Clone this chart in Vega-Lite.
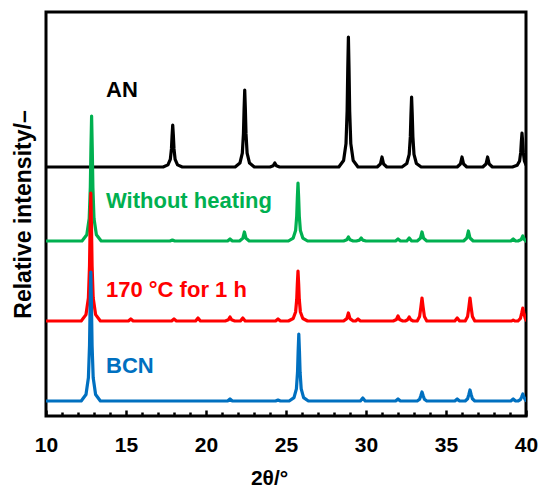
{
  "$schema": "https://vega.github.io/schema/vega-lite/v6.json",
  "width": 480,
  "height": 404,
  "autosize": {"type": "none"},
  "padding": {"left": 46, "top": 12, "right": 13, "bottom": 72},
  "background": "white",
  "config": {
    "view": {"stroke": "black", "strokeWidth": 3},
    "font": "Liberation Sans"
  },
  "resolve": {"axis": {"x": "independent"}},
  "layer": [
    {
      "data": {"values": [
        {"s":"AN","x":10,"y":248},
        {"s":"AN","x":17.32,"y":248},{"s":"AN","x":17.62,"y":250.1},{"s":"AN","x":17.77,"y":255.6},{"s":"AN","x":17.84,"y":266.1},{"s":"AN","x":17.88,"y":279.5},{"s":"AN","x":17.92,"y":290},{"s":"AN","x":17.96,"y":279.5},{"s":"AN","x":18.0,"y":266.1},{"s":"AN","x":18.07,"y":255.6},{"s":"AN","x":18.22,"y":250.1},{"s":"AN","x":18.52,"y":248},
        {"s":"AN","x":21.82,"y":248},{"s":"AN","x":22.12,"y":251.9},{"s":"AN","x":22.27,"y":261.9},{"s":"AN","x":22.34,"y":281.1},{"s":"AN","x":22.38,"y":305.8},{"s":"AN","x":22.42,"y":325},{"s":"AN","x":22.46,"y":305.8},{"s":"AN","x":22.5,"y":281.1},{"s":"AN","x":22.57,"y":261.9},{"s":"AN","x":22.72,"y":251.9},{"s":"AN","x":23.02,"y":248},
        {"s":"AN","x":24.0,"y":248},{"s":"AN","x":24.2,"y":249.2},{"s":"AN","x":24.3,"y":252},{"s":"AN","x":24.4,"y":249.2},{"s":"AN","x":24.6,"y":248},
        {"s":"AN","x":28.3,"y":248},{"s":"AN","x":28.6,"y":254.5},{"s":"AN","x":28.75,"y":271.4},{"s":"AN","x":28.82,"y":303.9},{"s":"AN","x":28.86,"y":345.5},{"s":"AN","x":28.9,"y":378},{"s":"AN","x":28.94,"y":345.5},{"s":"AN","x":28.98,"y":303.9},{"s":"AN","x":29.05,"y":271.4},{"s":"AN","x":29.2,"y":254.5},{"s":"AN","x":29.5,"y":248},
        {"s":"AN","x":30.7,"y":248},{"s":"AN","x":30.9,"y":251},{"s":"AN","x":31.0,"y":258},{"s":"AN","x":31.1,"y":251},{"s":"AN","x":31.3,"y":248},
        {"s":"AN","x":32.25,"y":248},{"s":"AN","x":32.55,"y":251.5},{"s":"AN","x":32.7,"y":260.6},{"s":"AN","x":32.77,"y":278.1},{"s":"AN","x":32.81,"y":300.5},{"s":"AN","x":32.85,"y":318},{"s":"AN","x":32.89,"y":300.5},{"s":"AN","x":32.93,"y":278.1},{"s":"AN","x":33.0,"y":260.6},{"s":"AN","x":33.15,"y":251.5},{"s":"AN","x":33.45,"y":248},
        {"s":"AN","x":35.7,"y":248},{"s":"AN","x":35.9,"y":251},{"s":"AN","x":36.0,"y":258},{"s":"AN","x":36.1,"y":251},{"s":"AN","x":36.3,"y":248},
        {"s":"AN","x":37.3,"y":248},{"s":"AN","x":37.5,"y":251},{"s":"AN","x":37.6,"y":258},{"s":"AN","x":37.7,"y":251},{"s":"AN","x":37.9,"y":248},
        {"s":"AN","x":39.15,"y":248},{"s":"AN","x":39.45,"y":249.7},{"s":"AN","x":39.6,"y":254.1},{"s":"AN","x":39.67,"y":262.6},{"s":"AN","x":39.71,"y":273.5},{"s":"AN","x":39.75,"y":282},{"s":"AN","x":39.79,"y":273.5},{"s":"AN","x":39.83,"y":262.6},{"s":"AN","x":39.9,"y":254.1},{"s":"AN","x":40,"y":250},

        {"s":"WH","x":10,"y":174},
        {"s":"WH","x":12.25,"y":174},{"s":"WH","x":12.55,"y":180.3},{"s":"WH","x":12.7,"y":196.5},{"s":"WH","x":12.77,"y":227.8},{"s":"WH","x":12.81,"y":267.8},{"s":"WH","x":12.85,"y":299},{"s":"WH","x":12.89,"y":267.8},{"s":"WH","x":12.93,"y":227.8},{"s":"WH","x":13.0,"y":196.5},{"s":"WH","x":13.15,"y":180.3},{"s":"WH","x":13.45,"y":174},
        {"s":"WH","x":17.75,"y":174},{"s":"WH","x":17.9,"y":175},{"s":"WH","x":18.05,"y":174},
        {"s":"WH","x":21.35,"y":174},{"s":"WH","x":21.5,"y":176},{"s":"WH","x":21.65,"y":174},
        {"s":"WH","x":22.1,"y":174},{"s":"WH","x":22.3,"y":176.7},{"s":"WH","x":22.4,"y":183},{"s":"WH","x":22.5,"y":176.7},{"s":"WH","x":22.7,"y":174},
        {"s":"WH","x":25.15,"y":174},{"s":"WH","x":25.45,"y":176.9},{"s":"WH","x":25.6,"y":184.4},{"s":"WH","x":25.67,"y":198.9},{"s":"WH","x":25.71,"y":217.5},{"s":"WH","x":25.75,"y":232},{"s":"WH","x":25.79,"y":217.5},{"s":"WH","x":25.83,"y":198.9},{"s":"WH","x":25.9,"y":184.4},{"s":"WH","x":26.05,"y":176.9},{"s":"WH","x":26.35,"y":174},
        {"s":"WH","x":28.6,"y":174},{"s":"WH","x":28.8,"y":175.2},{"s":"WH","x":28.9,"y":178},{"s":"WH","x":29.0,"y":175.2},{"s":"WH","x":29.2,"y":174},
        {"s":"WH","x":29.4,"y":174},{"s":"WH","x":29.6,"y":174.9},{"s":"WH","x":29.7,"y":177},{"s":"WH","x":29.8,"y":174.9},{"s":"WH","x":30.0,"y":174},
        {"s":"WH","x":31.85,"y":174},{"s":"WH","x":32.0,"y":176},{"s":"WH","x":32.15,"y":174},
        {"s":"WH","x":32.55,"y":174},{"s":"WH","x":32.7,"y":177},{"s":"WH","x":32.85,"y":174},
        {"s":"WH","x":33.2,"y":174},{"s":"WH","x":33.4,"y":176.7},{"s":"WH","x":33.5,"y":183},{"s":"WH","x":33.6,"y":176.7},{"s":"WH","x":33.8,"y":174},
        {"s":"WH","x":36.1,"y":174},{"s":"WH","x":36.3,"y":177},{"s":"WH","x":36.4,"y":184},{"s":"WH","x":36.5,"y":177},{"s":"WH","x":36.7,"y":174},
        {"s":"WH","x":39.05,"y":174},{"s":"WH","x":39.2,"y":176},{"s":"WH","x":39.35,"y":174},
        {"s":"WH","x":39.5,"y":174},{"s":"WH","x":39.7,"y":175.5},{"s":"WH","x":39.8,"y":179},{"s":"WH","x":39.9,"y":175.5},{"s":"WH","x":40,"y":174},

        {"s":"HT","x":10,"y":94},
        {"s":"HT","x":12.2,"y":94},{"s":"HT","x":12.5,"y":100.4},{"s":"HT","x":12.65,"y":117},{"s":"HT","x":12.72,"y":149},{"s":"HT","x":12.76,"y":190},{"s":"HT","x":12.8,"y":222},{"s":"HT","x":12.84,"y":190},{"s":"HT","x":12.88,"y":149},{"s":"HT","x":12.95,"y":117},{"s":"HT","x":13.1,"y":100.4},{"s":"HT","x":13.4,"y":94},
        {"s":"HT","x":15.15,"y":94},{"s":"HT","x":15.3,"y":96},{"s":"HT","x":15.45,"y":94},
        {"s":"HT","x":17.85,"y":94},{"s":"HT","x":18.0,"y":96},{"s":"HT","x":18.15,"y":94},
        {"s":"HT","x":19.35,"y":94},{"s":"HT","x":19.5,"y":97},{"s":"HT","x":19.65,"y":94},
        {"s":"HT","x":21.2,"y":94},{"s":"HT","x":21.4,"y":95.2},{"s":"HT","x":21.5,"y":98},{"s":"HT","x":21.6,"y":95.2},{"s":"HT","x":21.8,"y":94},
        {"s":"HT","x":22.15,"y":94},{"s":"HT","x":22.3,"y":97},{"s":"HT","x":22.45,"y":94},
        {"s":"HT","x":24.35,"y":94},{"s":"HT","x":24.5,"y":96},{"s":"HT","x":24.65,"y":94},
        {"s":"HT","x":25.15,"y":94},{"s":"HT","x":25.45,"y":96.5},{"s":"HT","x":25.6,"y":103},{"s":"HT","x":25.67,"y":115.5},{"s":"HT","x":25.71,"y":131.5},{"s":"HT","x":25.75,"y":144},{"s":"HT","x":25.79,"y":131.5},{"s":"HT","x":25.83,"y":115.5},{"s":"HT","x":25.9,"y":103},{"s":"HT","x":26.05,"y":96.5},{"s":"HT","x":26.35,"y":94},
        {"s":"HT","x":28.6,"y":94},{"s":"HT","x":28.8,"y":96.4},{"s":"HT","x":28.9,"y":102},{"s":"HT","x":29.0,"y":96.4},{"s":"HT","x":29.2,"y":94},
        {"s":"HT","x":29.35,"y":94},{"s":"HT","x":29.5,"y":96},{"s":"HT","x":29.65,"y":94},
        {"s":"HT","x":31.7,"y":94},{"s":"HT","x":31.9,"y":95.5},{"s":"HT","x":32.0,"y":99},{"s":"HT","x":32.1,"y":95.5},{"s":"HT","x":32.3,"y":94},
        {"s":"HT","x":32.45,"y":94},{"s":"HT","x":32.6,"y":95.2},{"s":"HT","x":32.7,"y":98},{"s":"HT","x":32.8,"y":95.2},{"s":"HT","x":32.95,"y":94},
        {"s":"HT","x":33.2,"y":94},{"s":"HT","x":33.35,"y":98.6},{"s":"HT","x":33.43,"y":107.8},{"s":"HT","x":33.5,"y":117},{"s":"HT","x":33.57,"y":107.8},{"s":"HT","x":33.65,"y":98.6},{"s":"HT","x":33.8,"y":94},
        {"s":"HT","x":35.55,"y":94},{"s":"HT","x":35.7,"y":97},{"s":"HT","x":35.85,"y":94},
        {"s":"HT","x":36.2,"y":94},{"s":"HT","x":36.35,"y":98.6},{"s":"HT","x":36.43,"y":107.8},{"s":"HT","x":36.5,"y":117},{"s":"HT","x":36.57,"y":107.8},{"s":"HT","x":36.65,"y":98.6},{"s":"HT","x":36.8,"y":94},
        {"s":"HT","x":39.1,"y":94},{"s":"HT","x":39.2,"y":95},{"s":"HT","x":39.3,"y":94},
        {"s":"HT","x":39.5,"y":94},{"s":"HT","x":39.65,"y":96.6},{"s":"HT","x":39.73,"y":101.8},{"s":"HT","x":39.8,"y":107},{"s":"HT","x":39.87,"y":101.8},{"s":"HT","x":39.95,"y":96.6},{"s":"HT","x":40,"y":95},

        {"s":"BCN","x":10,"y":14},
        {"s":"BCN","x":12.2,"y":14},{"s":"BCN","x":12.5,"y":20.5},{"s":"BCN","x":12.65,"y":37.2},{"s":"BCN","x":12.72,"y":69.5},{"s":"BCN","x":12.76,"y":110.8},{"s":"BCN","x":12.8,"y":143},{"s":"BCN","x":12.84,"y":110.8},{"s":"BCN","x":12.88,"y":69.5},{"s":"BCN","x":12.95,"y":37.2},{"s":"BCN","x":13.1,"y":20.5},{"s":"BCN","x":13.4,"y":14},
        {"s":"BCN","x":21.35,"y":14},{"s":"BCN","x":21.5,"y":16},{"s":"BCN","x":21.65,"y":14},
        {"s":"BCN","x":24.35,"y":14},{"s":"BCN","x":24.5,"y":15},{"s":"BCN","x":24.65,"y":14},
        {"s":"BCN","x":25.2,"y":14},{"s":"BCN","x":25.5,"y":17.4},{"s":"BCN","x":25.65,"y":26.1},{"s":"BCN","x":25.72,"y":42.8},{"s":"BCN","x":25.76,"y":64.3},{"s":"BCN","x":25.8,"y":81},{"s":"BCN","x":25.84,"y":64.3},{"s":"BCN","x":25.88,"y":42.8},{"s":"BCN","x":25.95,"y":26.1},{"s":"BCN","x":26.1,"y":17.4},{"s":"BCN","x":26.4,"y":14},
        {"s":"BCN","x":29.65,"y":14},{"s":"BCN","x":29.8,"y":17},{"s":"BCN","x":29.95,"y":14},
        {"s":"BCN","x":31.85,"y":14},{"s":"BCN","x":32.0,"y":16},{"s":"BCN","x":32.15,"y":14},
        {"s":"BCN","x":33.2,"y":14},{"s":"BCN","x":33.35,"y":15.8},{"s":"BCN","x":33.43,"y":19.4},{"s":"BCN","x":33.5,"y":23},{"s":"BCN","x":33.57,"y":19.4},{"s":"BCN","x":33.65,"y":15.8},{"s":"BCN","x":33.8,"y":14},
        {"s":"BCN","x":35.55,"y":14},{"s":"BCN","x":35.7,"y":16},{"s":"BCN","x":35.85,"y":14},
        {"s":"BCN","x":36.2,"y":14},{"s":"BCN","x":36.35,"y":16.2},{"s":"BCN","x":36.43,"y":20.6},{"s":"BCN","x":36.5,"y":25},{"s":"BCN","x":36.57,"y":20.6},{"s":"BCN","x":36.65,"y":16.2},{"s":"BCN","x":36.8,"y":14},
        {"s":"BCN","x":39.05,"y":14},{"s":"BCN","x":39.2,"y":16},{"s":"BCN","x":39.35,"y":14},
        {"s":"BCN","x":39.5,"y":14},{"s":"BCN","x":39.65,"y":15.4},{"s":"BCN","x":39.73,"y":18.2},{"s":"BCN","x":39.8,"y":21},{"s":"BCN","x":39.87,"y":18.2},{"s":"BCN","x":39.95,"y":15.4},{"s":"BCN","x":40,"y":14.5}
      ]},
      "mark": {"type": "line", "strokeWidth": 3.2, "strokeJoin": "round", "strokeCap": "round", "clip": true},
      "encoding": {
        "x": {"field": "x", "type": "quantitative",
          "scale": {"domain": [10, 40], "nice": false, "zero": false},
          "axis": {"orient": "bottom", "offset": -6, "values": [10, 15, 20, 25, 30, 35, 40], "format": "d", "zindex": 2,
            "tickSize": 6, "tickWidth": 2.5, "tickColor": "black", "domain": false, "grid": false,
            "labelFont": "Liberation Sans", "labelFontSize": 21, "labelFontWeight": "bold", "labelColor": "black",
            "labelPadding": 18.5, "labelFlush": false,
            "title": "2θ/°", "titleFont": "Liberation Sans", "titleFontSize": 21, "titleFontWeight": "bold", "titleColor": "black",
            "titleX": 223, "titleY": 74, "titleBaseline": "alphabetic"}},
        "y": {"field": "y", "type": "quantitative",
          "scale": {"domain": [-1, 403], "nice": false, "zero": false},
          "axis": {"ticks": false, "labels": false, "domain": false, "grid": false,
            "title": "Relative intensity/–", "titleFont": "Liberation Sans", "titleFontSize": 23, "titleFontWeight": "bold", "titleColor": "black",
            "titleX": -16, "titleY": 202, "titleBaseline": "alphabetic", "titleAlign": "center", "titleAngle": -90}},
        "color": {"field": "s", "type": "nominal",
          "scale": {"domain": ["AN", "WH", "HT", "BCN"], "range": ["#000000", "#00B050", "#FF0000", "#0070C0"]},
          "legend": null},
        "detail": {"field": "s"}
      }
    },
    {
      "data": {"values": [
        {"s": "AN", "label": "AN", "x": 13.75, "y": 318},
        {"s": "WH", "label": "Without heating", "x": 13.75, "y": 207},
        {"s": "HT", "label": "170 °C for 1 h", "x": 13.75, "y": 118},
        {"s": "BCN", "label": "BCN", "x": 13.75, "y": 42}
      ]},
      "mark": {"type": "text", "align": "left", "baseline": "alphabetic", "font": "Liberation Sans", "fontSize": 22, "fontWeight": "bold"},
      "encoding": {
        "x": {"field": "x", "type": "quantitative",
          "scale": {"domain": [10, 40], "nice": false, "zero": false},
          "axis": {"orient": "bottom", "offset": -4, "zindex": 2, "values": [11,12,13,14,16,17,18,19,21,22,23,24,26,27,28,29,31,32,33,34,36,37,38,39],
            "tickSize": 4, "tickWidth": 2.5, "tickColor": "black", "domain": false, "grid": false, "labels": false, "title": null}},
        "y": {"field": "y", "type": "quantitative", "scale": {"domain": [-1, 403], "nice": false, "zero": false}},
        "text": {"field": "label"},
        "color": {"field": "s", "type": "nominal",
          "scale": {"domain": ["AN", "WH", "HT", "BCN"], "range": ["#000000", "#00B050", "#FF0000", "#0070C0"]},
          "legend": null}
      }
    }
  ]
}
